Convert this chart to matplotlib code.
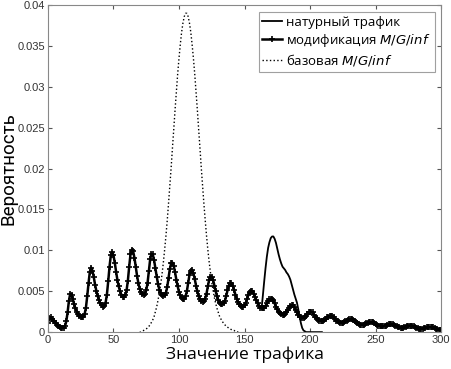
import matplotlib
matplotlib.use("Agg")
import matplotlib.pyplot as plt
from matplotlib.ticker import FixedLocator, FuncFormatter

# modification M/G/inf, one value per integer traffic value 0..300
mod_x = list(range(0, 301))
mod_y = [
    0.0011, 0.0017, 0.0018, 0.0016, 0.0014, 0.0013, 0.0011, 0.0009, 0.0008, 0.0006,
    0.0005, 0.0005, 0.0005, 0.0007, 0.0013, 0.0024, 0.0038, 0.0047, 0.0046, 0.0040,
    0.0034, 0.0029, 0.0025, 0.0022, 0.0020, 0.0018, 0.0018, 0.0019, 0.0022, 0.0030,
    0.0044, 0.0060, 0.0074, 0.0079, 0.0075, 0.0067, 0.0058, 0.0050, 0.0044, 0.0039,
    0.0035, 0.0033, 0.0031, 0.0032, 0.0036, 0.0046, 0.0062, 0.0080, 0.0094, 0.0098,
    0.0094, 0.0085, 0.0074, 0.0064, 0.0056, 0.0050, 0.0046, 0.0043, 0.0043, 0.0045,
    0.0051, 0.0063, 0.0080, 0.0095, 0.0101, 0.0099, 0.0091, 0.0080, 0.0069, 0.0060,
    0.0053, 0.0049, 0.0047, 0.0046, 0.0047, 0.0051, 0.0060, 0.0075, 0.0089, 0.0096,
    0.0095, 0.0088, 0.0078, 0.0068, 0.0059, 0.0052, 0.0048, 0.0045, 0.0044, 0.0045,
    0.0048, 0.0055, 0.0066, 0.0077, 0.0084, 0.0085, 0.0081, 0.0073, 0.0064, 0.0056,
    0.0049, 0.0045, 0.0042, 0.0040, 0.0041, 0.0044, 0.0050, 0.0060, 0.0070, 0.0075,
    0.0076, 0.0072, 0.0065, 0.0057, 0.0050, 0.0044, 0.0040, 0.0038, 0.0037, 0.0038,
    0.0041, 0.0047, 0.0056, 0.0064, 0.0068, 0.0068, 0.0064, 0.0057, 0.0050, 0.0044,
    0.0039, 0.0036, 0.0034, 0.0034, 0.0035, 0.0038, 0.0044, 0.0051, 0.0057, 0.0060,
    0.0060, 0.0057, 0.0052, 0.0046, 0.0041, 0.0037, 0.0034, 0.0032, 0.0031, 0.0031,
    0.0033, 0.0036, 0.0041, 0.0046, 0.0049, 0.0050, 0.0050, 0.0047, 0.0043, 0.0039,
    0.0035, 0.0032, 0.0030, 0.0029, 0.0029, 0.0030, 0.0032, 0.0035, 0.0038, 0.0040,
    0.0041, 0.0041, 0.0039, 0.0035, 0.0031, 0.0028, 0.0025, 0.0023, 0.0022, 0.0021,
    0.0021, 0.0022, 0.0024, 0.0027, 0.0030, 0.0032, 0.0033, 0.0033, 0.0031, 0.0027,
    0.0024, 0.0021, 0.0019, 0.0018, 0.0017, 0.0017, 0.0018, 0.0020, 0.0022, 0.0024,
    0.0025, 0.0025, 0.0024, 0.0021, 0.0019, 0.0017, 0.0015, 0.0014, 0.0014, 0.0014,
    0.0014, 0.0015, 0.0016, 0.0018, 0.0019, 0.0020, 0.0020, 0.0020, 0.0018, 0.0016,
    0.0014, 0.0013, 0.0012, 0.0011, 0.0011, 0.0011, 0.0012, 0.0013, 0.0014, 0.0015,
    0.0016, 0.0016, 0.0016, 0.0015, 0.0013, 0.0012, 0.0011, 0.0010, 0.0009, 0.0009,
    0.0009, 0.0009, 0.0010, 0.0011, 0.0011, 0.0012, 0.0012, 0.0012, 0.0012, 0.0011,
    0.0010, 0.0009, 0.0008, 0.0008, 0.0007, 0.0007, 0.0007, 0.0008, 0.0008, 0.0009,
    0.0010, 0.0010, 0.0010, 0.0010, 0.0009, 0.0008, 0.0007, 0.0006, 0.0006, 0.0005,
    0.0005, 0.0005, 0.0006, 0.0006, 0.0007, 0.0008, 0.0008, 0.0008, 0.0008, 0.0007,
    0.0006, 0.0005, 0.0005, 0.0004, 0.0004, 0.0004, 0.0004, 0.0005, 0.0005, 0.0006,
    0.0006, 0.0006, 0.0006, 0.0006, 0.0006, 0.0005, 0.0004, 0.0004, 0.0003, 0.0003,
    0.0003,
]

# natural traffic
nat_x = list(range(163, 210))
nat_y = [
    0.0029, 0.0045, 0.0062, 0.0078, 0.0092, 0.0103, 0.0110,
    0.0115, 0.0117, 0.0117, 0.0114, 0.0109, 0.0102, 0.0095, 0.0089, 0.0084, 0.0080,
    0.0078, 0.0076, 0.0073, 0.0071, 0.0068, 0.0064, 0.0058, 0.0052, 0.0046, 0.0041,
    0.0036, 0.0028, 0.0019, 0.0011, 0.0005, 0.0002, 0.0001, 0, 0, 0,
    0, 0, 0, 0, 0, 0, 0, 0, 0, 0,
]

# base M/G/inf
base_x = list(range(70, 147))
base_y = [
    0.0000, 0.0000, 0.0001, 0.0002, 0.0003, 0.0004, 0.0005, 0.0007, 0.0009, 0.0012,
    0.0015, 0.0019, 0.0025, 0.0031, 0.0039, 0.0048, 0.0058, 0.0070, 0.0084, 0.0100,
    0.0117, 0.0136, 0.0157, 0.0179, 0.0201, 0.0225, 0.0248, 0.0272, 0.0294, 0.0316,
    0.0335, 0.0352, 0.0367, 0.0378, 0.0386, 0.0390, 0.0390, 0.0386, 0.0378, 0.0367,
    0.0352, 0.0335, 0.0316, 0.0294, 0.0272, 0.0248, 0.0225, 0.0201, 0.0179, 0.0157,
    0.0137, 0.0118, 0.0101, 0.0086, 0.0073, 0.0061, 0.0051, 0.0042, 0.0035, 0.0029,
    0.0024, 0.0019, 0.0016, 0.0013, 0.0011, 0.0009, 0.0007, 0.0006, 0.0005, 0.0004,
    0.0003, 0.0002, 0.0002, 0.0001, 0.0001, 0.0000, 0.0000,
]

xticks = [0, 50, 100, 150, 200, 250, 300]
yticks = [0, 0.005, 0.01, 0.015, 0.02, 0.025, 0.03, 0.035, 0.04]

fig = plt.figure(figsize=(4.52, 3.69), dpi=100)
ax = fig.add_axes([0.106, 0.100, 0.870, 0.886])

ax.plot(nat_x, nat_y, color="black", lw=1.3, label="натурный трафик")
ax.plot(mod_x, mod_y, color="black", lw=1.8, marker="+", ms=4.5, mew=1.2,
        label="модификация $\\mathit{M/G/inf}$")
ax.plot(base_x, base_y, color="black", lw=1.0, ls=":",
        label="базовая $\\mathit{M/G/inf}$")

ax.set_xlim(0, 300)
ax.set_ylim(0, 0.04)
ax.xaxis.set_major_locator(FixedLocator(xticks))
ax.yaxis.set_major_locator(FixedLocator(yticks))
ax.yaxis.set_major_formatter(FuncFormatter(lambda v, p: "%g" % v))
ax.tick_params(direction="in", top=True, right=True, length=3, pad=2,
               labelsize=8, colors="#555555", labelcolor="#333333")
for lab in ax.get_xticklabels() + ax.get_yticklabels():
    lab.set_family("Liberation Sans")
for s in ax.spines.values():
    s.set_color("#888888")

ax.set_xlabel("Значение трафика", fontsize=12.5, family="Open Sans", labelpad=1)
ax.set_ylabel("Вероятность", fontsize=13.5, family="Roboto")
ax.yaxis.set_label_coords(-0.078, 0.5)

leg = ax.legend(loc="upper right", handlelength=1.5,
                borderpad=0.3, labelspacing=0.25, handletextpad=0.3,
                fancybox=False, prop={"family": "Open Sans", "size": 9.5})
leg.get_frame().set_edgecolor("#888888")
leg.get_frame().set_linewidth(0.8)

fig.savefig("out.png", dpi=100)
